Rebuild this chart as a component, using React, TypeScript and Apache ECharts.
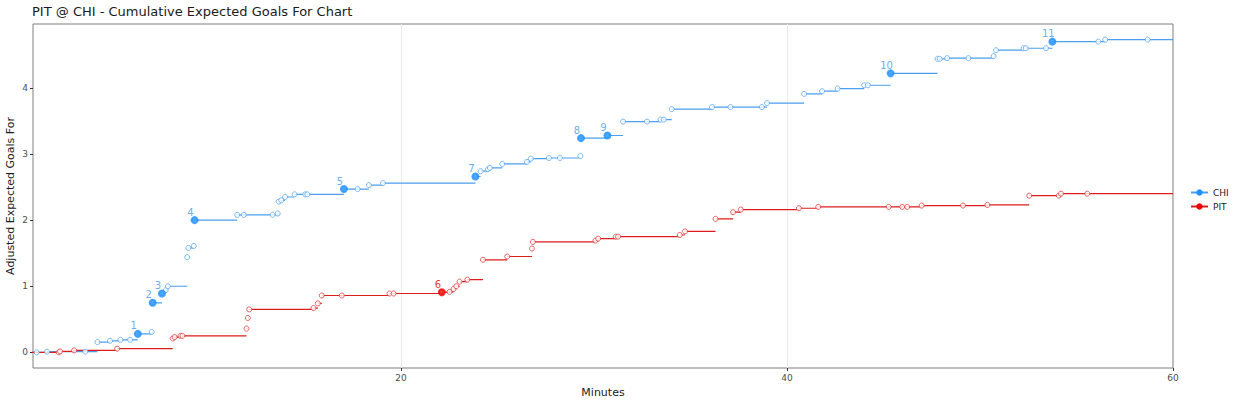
import React, { useEffect, useRef } from "react";
import * as echarts from "echarts";

// CHI shots: minute, cumulative adjusted xG after the shot
const chiTimes = [1.13, 1.67, 3.65, 4.28, 4.93, 5.47, 5.97, 6.37, 7.09, 7.14, 7.62, 7.82, 7.93, 8.93, 8.99, 9.27, 9.31, 11.52, 11.86, 13.35, 13.62, 13.67, 13.8, 14.0, 14.49, 15.04, 15.15, 17.05, 17.76, 18.34, 19.07, 23.86, 24.13, 24.51, 24.61, 25.25, 26.53, 26.73, 27.67, 28.24, 29.3, 29.33, 30.7, 31.51, 32.75, 33.45, 33.62, 34.03, 36.12, 37.07, 38.7, 38.97, 40.89, 41.82, 42.62, 44.0, 44.19, 45.37, 47.8, 47.91, 48.3, 49.4, 50.71, 50.83, 52.26, 52.37, 53.42, 53.75, 56.13, 56.49, 58.69];
const chiValues = [0.0, 0.01, 0.01, 0.155, 0.175, 0.19, 0.19, 0.28, 0.31, 0.75, 0.89, 0.94, 1.0, 1.44, 1.58, 1.61, 2.0, 2.08, 2.08, 2.08, 2.1, 2.28, 2.3, 2.35, 2.39, 2.39, 2.39, 2.47, 2.47, 2.53, 2.56, 2.66, 2.74, 2.77, 2.79, 2.85, 2.88, 2.93, 2.94, 2.94, 2.97, 3.24, 3.28, 3.49, 3.49, 3.52, 3.52, 3.68, 3.71, 3.71, 3.71, 3.77, 3.91, 3.95, 3.99, 4.04, 4.04, 4.22, 4.44, 4.44, 4.45, 4.45, 4.48, 4.57, 4.6, 4.6, 4.6, 4.7, 4.7, 4.73, 4.73];
// goal number for each CHI shot (0 = no goal)
const chiGoals = [0, 0, 0, 0, 0, 0, 0, 1, 0, 2, 3, 0, 0, 0, 0, 0, 4, 0, 0, 0, 0, 0, 0, 0, 0, 0, 0, 5, 0, 0, 0, 7, 0, 0, 0, 0, 0, 0, 0, 0, 0, 8, 9, 0, 0, 0, 0, 0, 0, 0, 0, 0, 0, 0, 0, 0, 0, 10, 0, 0, 0, 0, 0, 0, 0, 0, 0, 11, 0, 0, 0];

// PIT shots
const pitTimes = [2.27, 2.34, 3.07, 5.3, 8.18, 8.28, 8.58, 8.68, 12.0, 12.07, 12.14, 15.47, 15.7, 15.9, 16.94, 19.41, 19.62, 22.12, 22.52, 22.73, 22.87, 23.04, 23.44, 24.25, 25.51, 26.79, 26.84, 30.08, 30.22, 31.13, 31.25, 34.45, 34.72, 36.3, 37.21, 37.61, 40.62, 41.62, 45.27, 45.97, 46.23, 46.98, 49.12, 50.38, 52.55, 54.08, 54.2, 55.56];
const pitValues = [0.0, 0.015, 0.03, 0.056, 0.21, 0.23, 0.25, 0.25, 0.36, 0.52, 0.65, 0.67, 0.74, 0.86, 0.86, 0.89, 0.89, 0.91, 0.915, 0.96, 1.0, 1.07, 1.1, 1.4, 1.45, 1.57, 1.67, 1.69, 1.72, 1.75, 1.75, 1.775, 1.83, 2.02, 2.12, 2.16, 2.18, 2.2, 2.2, 2.2, 2.2, 2.22, 2.22, 2.23, 2.37, 2.37, 2.4, 2.4];
const pitGoals = [0, 0, 0, 0, 0, 0, 0, 0, 0, 0, 0, 0, 0, 0, 0, 0, 0, 6, 0, 0, 0, 0, 0, 0, 0, 0, 0, 0, 0, 0, 0, 0, 0, 0, 0, 0, 0, 0, 0, 0, 0, 0, 0, 0, 0, 0, 0, 0];

const xTicks = [20, 40, 60];
const yTicks = [0, 1, 2, 3, 4];
const xGridLines = [20, 40];
const gameEnd = 60;

const FONT = "DejaVu Sans";
const CHI_LINE = "#4a9ff0";
const CHI_PT = "#1e90ff";
const CHI_OPEN = "#5aa8f2";
const CHI_LABEL = "#4596e6";
const PIT_LINE = "#dd1c1c";
const PIT_PT = "#ee0000";
const PIT_OPEN = "#e23a3a";

function segments(times: number[], values: number[]) {
  const out: any[] = [];
  const t = [0, ...times];
  const v = [0, ...values];
  for (let i = 0; i < t.length; i++) {
    const next = i + 1 < t.length ? t[i + 1] : gameEnd;
    if (out.length) out.push(null);
    out.push([t[i], v[i]]);
    out.push([next, v[i]]);
  }
  return out;
}

function shots(times: number[], values: number[]) {
  return times.map((t, i) => [t, values[i]]);
}

function goals(times: number[], values: number[], g: number[]) {
  const out: any[] = [];
  times.forEach((t, i) => {
    if (g[i] > 0) out.push([t, values[i], g[i]]);
  });
  return out;
}

export default function App() {
  const ref = useRef<HTMLDivElement>(null);
  useEffect(() => {
    if (!ref.current) return;
    const chart = echarts.init(ref.current, undefined, { renderer: "svg" });
    const goalLabel = (color: string) => ({
      show: true,
      position: "top",
      offset: [-4, 6],
      formatter: (p: any) => String(p.value[2]),
      color,
      fontSize: 10,
      fontFamily: FONT,
    });
    chart.setOption({
      animation: false,
      backgroundColor: "#ffffff",
      textStyle: { fontFamily: FONT },
      title: {
        text: "PIT @ CHI - Cumulative Expected Goals For Chart",
        left: 27,
        top: 0,
        textStyle: { fontSize: 13, fontWeight: "normal", color: "#1a1a1a", fontFamily: FONT },
      },
      legend: {
        data: ["CHI", "PIT"],
        orient: "vertical",
        left: 1185,
        top: 183,
        itemGap: 5,
        itemWidth: 17,
        itemHeight: 8,
        textStyle: { fontSize: 9, color: "#1a1a1a", fontFamily: FONT },
      },
      grid: {
        left: 33,
        right: 64,
        top: 24,
        bottom: 32,
        containLabel: false,
        outerBoundsMode: "none",
        show: true,
        borderColor: "#7f7f7f",
        borderWidth: 1,
        backgroundColor: "#ffffff",
      },
      xAxis: {
        type: "value",
        min: 0.94,
        max: 60,
        name: "Minutes",
        nameLocation: "middle",
        nameGap: 18,
        nameTextStyle: { fontSize: 11, color: "#1a1a1a", fontFamily: FONT },
        axisLine: { show: false, onZero: false },
        axisTick: { show: true, customValues: xTicks, length: 3, lineStyle: { color: "#333333" } },
        axisLabel: { customValues: xTicks, fontSize: 9, color: "#4d4d4d", margin: 5, fontFamily: FONT },
        splitLine: { show: false },
      },
      yAxis: {
        type: "value",
        min: -0.2365,
        max: 4.9665,
        name: "Adjusted Expected Goals For",
        nameLocation: "middle",
        nameGap: 17,
        nameMoveOverlap: false,
        nameTextStyle: { fontSize: 11, color: "#1a1a1a", fontFamily: FONT },
        axisLine: { show: false, onZero: false },
        axisTick: { show: true, customValues: yTicks, length: 3, lineStyle: { color: "#333333" } },
        axisLabel: { customValues: yTicks, fontSize: 9, color: "#4d4d4d", margin: 5, fontFamily: FONT },
        splitLine: { show: false },
      },
      series: [
        {
          name: "CHI",
          type: "line",
          data: segments(chiTimes, chiValues),
          showSymbol: false,
          symbol: "circle",
          symbolSize: 7,
          connectNulls: false,
          lineStyle: { color: CHI_LINE, width: 1.2 },
          itemStyle: { color: CHI_PT },
          z: 2,
          markLine: {
            silent: true,
            symbol: "none",
            label: { show: false },
            lineStyle: { color: "#ebebeb", width: 1, type: "solid" },
            data: xGridLines.map((x) => ({ xAxis: x })),
            z: 1,
          },
        },
        {
          name: "PIT",
          type: "line",
          data: segments(pitTimes, pitValues),
          showSymbol: false,
          symbol: "circle",
          symbolSize: 7,
          connectNulls: false,
          lineStyle: { color: PIT_LINE, width: 1.2 },
          itemStyle: { color: PIT_PT },
          z: 2,
        },
        {
          name: "CHI shots",
          type: "scatter",
          data: shots(chiTimes, chiValues),
          symbol: "circle",
          symbolSize: 5,
          itemStyle: { color: "#ffffff", borderColor: CHI_OPEN, borderWidth: 1 },
          z: 3,
        },
        {
          name: "PIT shots",
          type: "scatter",
          data: shots(pitTimes, pitValues),
          symbol: "circle",
          symbolSize: 5,
          itemStyle: { color: "#ffffff", borderColor: PIT_OPEN, borderWidth: 1 },
          z: 3,
        },
        {
          name: "CHI goals",
          type: "scatter",
          data: goals(chiTimes, chiValues, chiGoals),
          symbol: "circle",
          symbolSize: 8,
          itemStyle: { color: CHI_PT },
          label: goalLabel(CHI_LABEL),
          z: 4,
        },
        {
          name: "PIT goals",
          type: "scatter",
          data: goals(pitTimes, pitValues, pitGoals),
          symbol: "circle",
          symbolSize: 8,
          itemStyle: { color: PIT_PT },
          label: goalLabel(PIT_PT),
          z: 4,
        },
      ],
    });
    return () => chart.dispose();
  }, []);
  return (
    <div
      ref={ref}
      style={{ position: "fixed", left: 0, top: 0, width: 1237, height: 400 }}
    />
  );
}
